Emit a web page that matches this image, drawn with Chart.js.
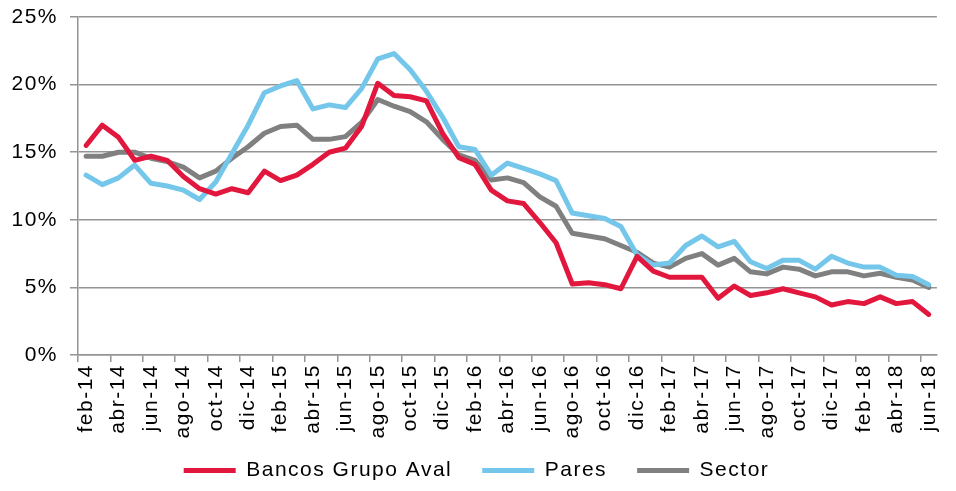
<!DOCTYPE html>
<html>
<head>
<meta charset="utf-8">
<script src="https://cdn.jsdelivr.net/npm/chart.js@4"></script>
<style>
  body { margin: 0; background: #fff; }
  #wrap { width: 956px; height: 491px; }
</style>
</head>
<body>
<div id="wrap"><canvas id="line-chart"></canvas></div>
<script>
// months feb-14 .. jun-18
const months = [
    'feb-14', 'mar-14', 'abr-14', 'may-14', 'jun-14', 'jul-14', 'ago-14', 'sep-14', 'oct-14', 'nov-14', 'dic-14',
    'ene-15', 'feb-15', 'mar-15', 'abr-15', 'may-15', 'jun-15', 'jul-15', 'ago-15', 'sep-15', 'oct-15', 'nov-15', 'dic-15',
    'ene-16', 'feb-16', 'mar-16', 'abr-16', 'may-16', 'jun-16', 'jul-16', 'ago-16', 'sep-16', 'oct-16', 'nov-16', 'dic-16',
    'ene-17', 'feb-17', 'mar-17', 'abr-17', 'may-17', 'jun-17', 'jul-17', 'ago-17', 'sep-17', 'oct-17', 'nov-17', 'dic-17',
    'ene-18', 'feb-18', 'mar-18', 'abr-18', 'may-18', 'jun-18'
];

const grupoAval = [
    15.5, 17.0, 16.1, 14.4, 14.7, 14.4, 13.2, 12.3, 11.9, 12.3, 12.0,
    13.6, 12.9, 13.3, 14.1, 15.0, 15.3, 16.9, 20.1, 19.2, 19.1, 18.8, 16.4,
    14.6, 14.1, 12.2, 11.4, 11.2, 9.8, 8.3, 5.25, 5.35, 5.2, 4.9, 7.3,
    6.2, 5.75, 5.75, 5.75, 4.2, 5.1, 4.4, 4.6, 4.9, 4.6, 4.3, 3.7,
    3.95, 3.8, 4.3, 3.8, 3.95, 3.0
];

const pares = [
    13.3, 12.6, 13.1, 14.05, 12.7, 12.5, 12.2, 11.5, 12.8, 14.9, 17.0,
    19.4, 19.9, 20.3, 18.2, 18.5, 18.3, 19.7, 21.9, 22.3, 21.1, 19.5, 17.6,
    15.4, 15.2, 13.3, 14.2, 13.8, 13.4, 12.9, 10.5, 10.3, 10.1, 9.5, 7.4,
    6.65, 6.8, 8.1, 8.8, 8.0, 8.4, 6.9, 6.4, 7.0, 7.0, 6.35, 7.3,
    6.8, 6.5, 6.5, 5.9, 5.8, 5.2
];

const sector = [
    14.7, 14.7, 15.0, 15.0, 14.55, 14.3, 13.9, 13.1, 13.6, 14.55, 15.4,
    16.4, 16.9, 17.0, 15.95, 15.95, 16.15, 17.2, 18.9, 18.4, 18.0, 17.25, 15.95,
    14.8, 14.4, 12.95, 13.1, 12.75, 11.7, 11.0, 9.0, 8.8, 8.6, 8.1, 7.6,
    6.8, 6.5, 7.15, 7.5, 6.65, 7.15, 6.15, 6.0, 6.5, 6.35, 5.85, 6.15,
    6.15, 5.85, 6.05, 5.75, 5.55, 5.0
];

const yTicks = [0, 5, 10, 15, 20, 25];

const gridGray = '#949494';
const fontFamily = 'Arial, "Liberation Sans", sans-serif';
const fontSize = 21;

// spaced-out lettering like the original
const letterSpacing = {
    id: 'letterSpacing',
    beforeUpdate(chart) { chart.ctx.letterSpacing = '1.5px'; },
    beforeLayout(chart) { chart.ctx.letterSpacing = '1.5px'; },
    beforeDraw(chart) { chart.ctx.letterSpacing = '1.5px'; }
};

function series(label, data, color) {
    return {
        label: label,
        data: data,
        borderColor: color,
        backgroundColor: color,
        borderWidth: 5,
        pointRadius: 0,
        pointStyle: 'line',
        borderCapStyle: 'round',
        borderJoinStyle: 'round',
        tension: 0,
        fill: false
    };
}

const ctx = document.getElementById('line-chart');

const chart = new Chart(ctx, {
    type: 'line',
    data: {
        labels: months,
        datasets: [
            series('Bancos Grupo Aval', grupoAval, '#E2173D'),
            series('Pares', pares, '#74C7EA'),
            series('Sector', sector, '#808080')
        ]
    },
    plugins: [letterSpacing],
    options: {
        responsive: true,
        maintainAspectRatio: false,
        animation: false,
        layout: {
            padding: { left: 0, right: 3, top: 17, bottom: 0 }
        },
        plugins: {
            legend: {
                position: 'bottom',
                labels: {
                    usePointStyle: true,
                    pointStyleWidth: 52,
                    boxHeight: 20,
                    padding: 8,
                    color: '#000',
                    font: { family: fontFamily, size: fontSize },
                    // wider gaps between items, vertical padding stays small
                    generateLabels: c => {
                        const items = Chart.defaults.plugins.legend.labels.generateLabels(c);
                        items.forEach((it, i) => {
                            if (i < items.length - 1) it.text += '\u00a0\u00a0\u00a0';
                        });
                        return items;
                    }
                }
            },
            tooltip: { enabled: false }
        },
        scales: {
            x: {
                offset: true,
                afterFit: axis => { axis.height = 97; },
                grid: {
                    offset: true,
                    drawOnChartArea: false,
                    tickLength: 7,
                    lineWidth: 1.5,
                    color: c => (c.index !== undefined && c.index % 2 === 0) ? gridGray : 'rgba(0,0,0,0)'
                },
                border: { color: gridGray, width: 1.5 },
                ticks: {
                    autoSkip: false,
                    maxRotation: 90,
                    minRotation: 90,
                    padding: 2,
                    color: '#000',
                    font: { family: fontFamily, size: fontSize },
                    callback: function (value, index) {
                        return index % 2 === 0 ? months[index] : '';
                    }
                }
            },
            y: {
                min: 0,
                max: 25,
                afterFit: axis => {
                    axis.width = 78;
                    axis.paddingTop = 0;
                    axis.paddingBottom = 0;
                },
                afterBuildTicks: axis => {
                    axis.ticks = yTicks.map(v => ({ value: v }));
                },
                grid: {
                    color: gridGray,
                    lineWidth: 1.5,
                    tickLength: 8
                },
                border: { color: gridGray, width: 1.5 },
                ticks: {
                    padding: 12,
                    color: '#000',
                    font: { family: fontFamily, size: fontSize },
                    callback: v => v + '%'
                }
            }
        }
    }
});
</script>
</body>
</html>
